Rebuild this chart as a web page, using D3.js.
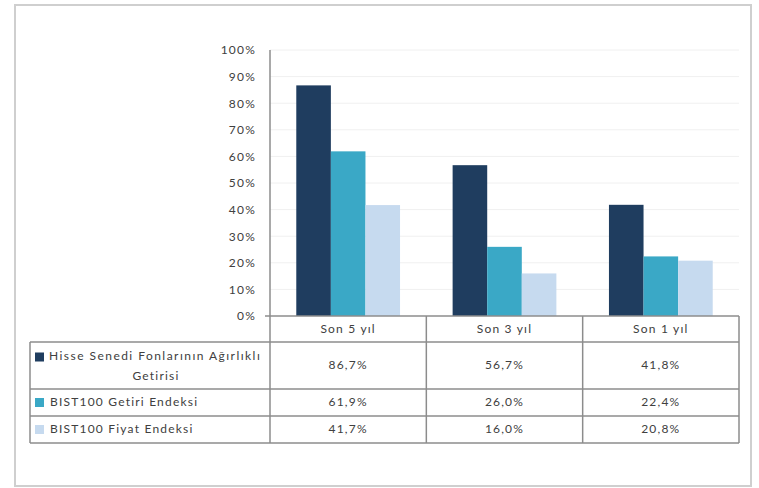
<!DOCTYPE html>
<html>
<head>
<meta charset="utf-8">
<script src="https://cdn.jsdelivr.net/npm/d3@7"></script>
<style>
  body { margin: 0; background: #fff; }
  text { font-family: Lato, "Open Sans", sans-serif; fill: #404040; letter-spacing: 1.2px; }
</style>
</head>
<body>
<script>
// data
var categories = ["Son 5 yıl", "Son 3 yıl", "Son 1 yıl"];
var seriesNames = ["Hisse Senedi Fonlarının Ağırlıklı Getirisi", "BIST100 Getiri Endeksi", "BIST100 Fiyat Endeksi"];
var fundReturns = [86.7, 56.7, 41.8];
var bistReturnIndex = [61.9, 26.0, 22.4];
var bistPriceIndex = [41.7, 16.0, 20.8];
var yTicks = [0, 10, 20, 30, 40, 50, 60, 70, 80, 90, 100];
var colors = ["#1f3d5f", "#3aa8c6", "#c6daef"];

var seriesValues = [fundReturns, bistReturnIndex, bistPriceIndex];
var fmt = function(v){ return v.toFixed(1).replace(".", ",") + "%"; };

var svg = d3.select("body").append("svg").attr("width", 759).attr("height", 488);

// outer frame
svg.append("rect")
  .attr("x", 15).attr("y", 5).attr("width", 736).attr("height", 481)
  .attr("fill", "#fff").attr("stroke", "#cfcfcf").attr("stroke-width", 2);

var x = d3.scaleBand().domain(categories).range([270, 739]);
var xInner = d3.scaleBand().domain(d3.range(3)).range([0, x.bandwidth()]).paddingOuter(0.76);
var y = d3.scaleLinear().domain([0, 100]).range([316, 50]);

// gridlines
svg.append("g").selectAll("line")
  .data(yTicks.slice(1))
  .enter().append("line")
    .attr("x1", 270).attr("x2", 739)
    .attr("y1", function(d){ return y(d); })
    .attr("y2", function(d){ return y(d); })
    .attr("stroke", "#f0f0f0").attr("stroke-width", 1);

// bars
var groups = svg.append("g").selectAll("g")
  .data(seriesValues)
  .enter().append("g")
    .attr("fill", function(d, i){ return colors[i]; });

groups.each(function(vals, si){
  d3.select(this).selectAll("rect")
    .data(vals)
    .enter().append("rect")
      .attr("x", function(d, i){ return x(categories[i]) + xInner(si); })
      .attr("y", function(d){ return y(d); })
      .attr("width", xInner.bandwidth())
      .attr("height", function(d){ return y(0) - y(d); });
});

// y axis
var yAxis = d3.axisLeft(y).tickValues(yTicks).tickFormat(function(d){ return d + "%"; })
  .tickSize(0).tickPadding(14);
var ga = svg.append("g").attr("transform", "translate(270,0)").call(yAxis);
ga.select(".domain").remove();
ga.selectAll("text").style("font-size", "12px").style("font-family", null).attr("fill", "#404040");

// table
var rowTops = [316, 342, 389, 416, 443];
var lineColor = "#8c8c8c";
var t = svg.append("g").attr("stroke", lineColor).attr("stroke-width", 1.5);

// axis / first column divider
t.append("line").attr("x1", 270).attr("x2", 270).attr("y1", 50).attr("y2", 443);
t.append("line").attr("x1", 30).attr("x2", 30).attr("y1", 342).attr("y2", 443);
t.selectAll("line.col")
  .data(categories)
  .enter().append("line")
    .attr("class", "col")
    .attr("x1", function(d){ return x(d) + x.bandwidth(); })
    .attr("x2", function(d){ return x(d) + x.bandwidth(); })
    .attr("y1", 316).attr("y2", 443);
t.append("line").attr("x1", 265).attr("x2", 739).attr("y1", 316).attr("y2", 316);
t.selectAll("line.row")
  .data(rowTops.slice(1))
  .enter().append("line")
    .attr("class", "row")
    .attr("x1", 30).attr("x2", 739)
    .attr("y1", function(d){ return d; })
    .attr("y2", function(d){ return d; });

// header labels
svg.append("g").selectAll("text")
  .data(categories)
  .enter().append("text")
    .attr("x", function(d){ return x(d) + x.bandwidth() / 2; })
    .attr("y", 330)
    .attr("text-anchor", "middle")
    .attr("dominant-baseline", "middle")
    .attr("font-size", "12px")
    .text(function(d){ return d; });

// legend keys
var rowMid = function(i){ return (rowTops[i + 1] + rowTops[i + 2]) / 2; };
svg.append("g").selectAll("rect")
  .data(seriesNames)
  .enter().append("rect")
    .attr("x", 35)
    .attr("y", function(d, i){ return (i === 0 ? 357 : rowMid(i)) - 4.5; })
    .attr("width", 9).attr("height", 9)
    .attr("fill", function(d, i){ return colors[i]; });

// series labels
var lab = svg.append("g").attr("font-size", "12px");
lab.append("text").attr("x", 49).attr("y", 357).attr("dominant-baseline", "middle")
  .attr("textLength", 212).attr("lengthAdjust", "spacing")
  .text("Hisse Senedi Fonlarının Ağırlıklı");
lab.append("text").attr("x", 156).attr("y", 377).attr("text-anchor", "middle").attr("dominant-baseline", "middle")
  .text("Getirisi");
lab.selectAll("text.s")
  .data(seriesNames.slice(1))
  .enter().append("text")
    .attr("class", "s")
    .attr("x", 50)
    .attr("y", function(d, i){ return rowMid(i + 1); })
    .attr("dominant-baseline", "middle")
    .text(function(d){ return d; });

// values
seriesValues.forEach(function(vals, si){
  svg.append("g").selectAll("text")
    .data(vals)
    .enter().append("text")
      .attr("x", function(d, i){ return x(categories[i]) + x.bandwidth() / 2; })
      .attr("y", rowMid(si))
      .attr("text-anchor", "middle")
      .attr("dominant-baseline", "middle")
      .attr("font-size", "12px")
      .text(fmt);
});
</script>
</body>
</html>
